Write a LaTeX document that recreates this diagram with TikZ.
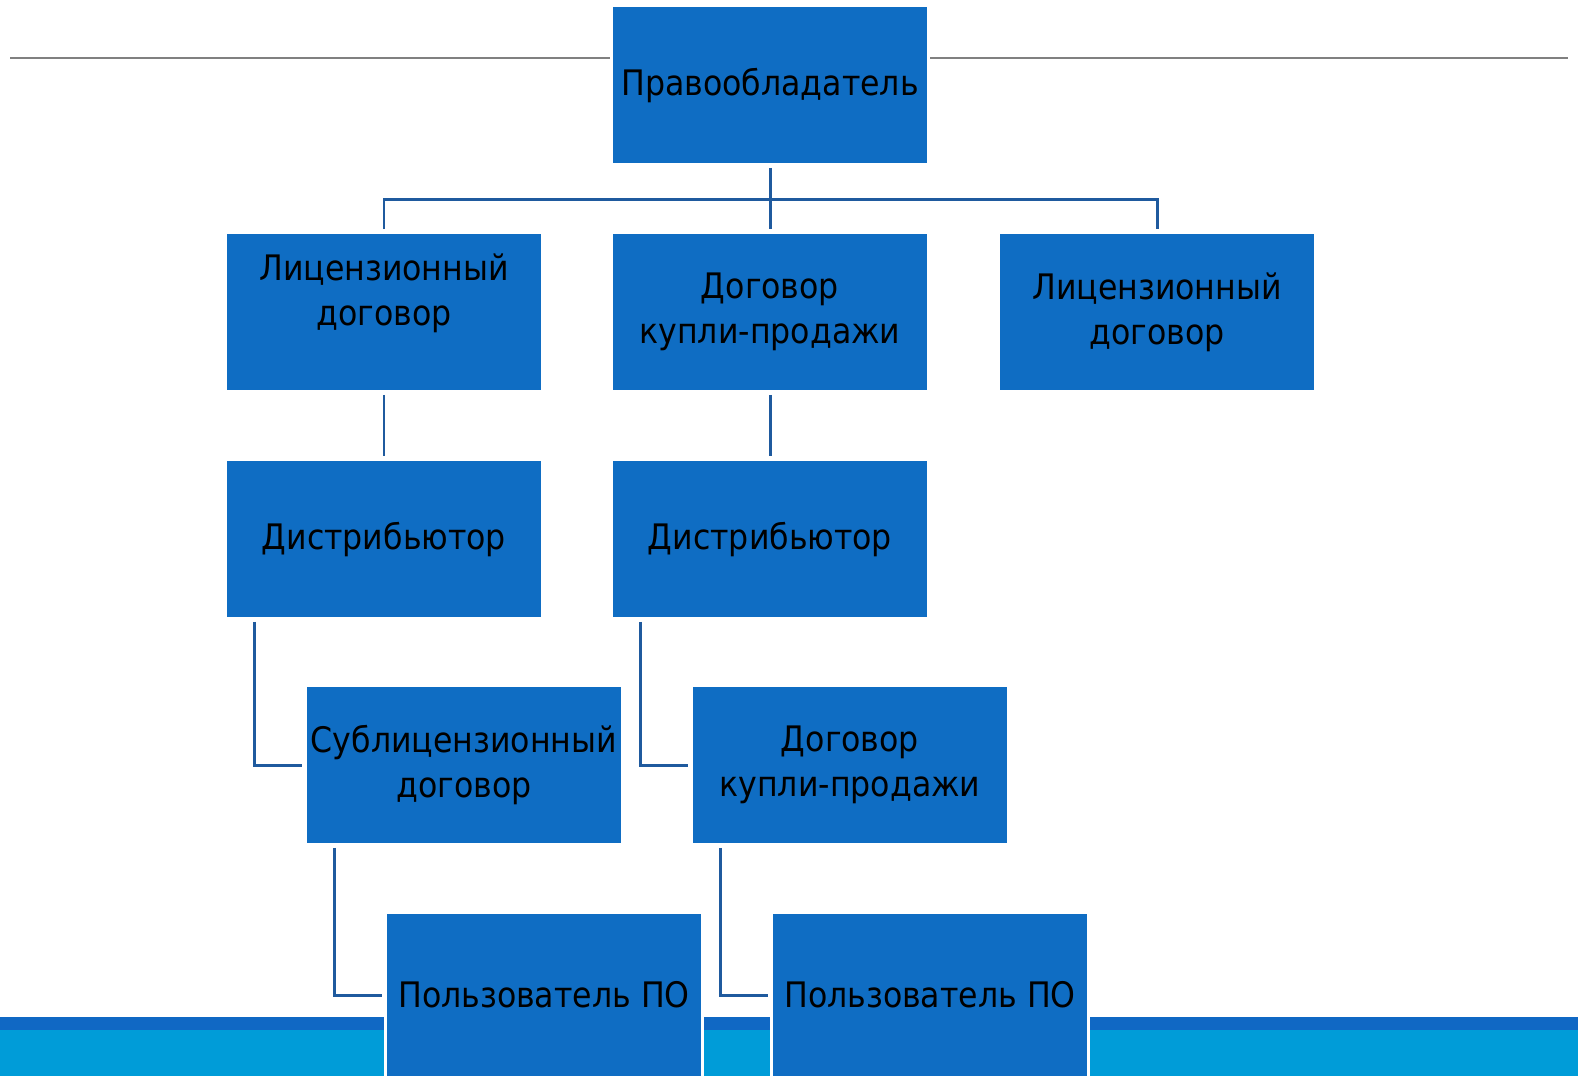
\documentclass[tikz,border=0pt]{standalone}
\usepackage{fontspec}
\newfontfamily\boxfont{DejaVu Sans Condensed}
\definecolor{boxblue}{HTML}{0F6DC3}
\definecolor{linkblue}{HTML}{1F5A9E}
\definecolor{bandblue}{HTML}{1068C4}
\definecolor{seablue}{HTML}{009CD8}
\begin{document}
\begin{tikzpicture}[x=0.02cm, y=-0.02cm,
		box/.style={rectangle, fill=boxblue, draw=white, line width=1.7pt,
			minimum width=6.36cm, minimum height=3.18cm, inner sep=0pt,
			align=center, text=black, font=\boxfont\fontsize{20}{25.6}\selectfont},
		link/.style={draw=linkblue, line width=1.7pt, shorten <=1.1pt, shorten >=1.1pt}]
				\useasboundingbox (0,0) rectangle (1578,1076);
				% rule and bands
				\draw[gray, line width=0.85pt] (10,58) -- (1568,58);
				\fill[seablue] (0,1030) rectangle (1578,1076);
				\fill[bandblue] (0,1017) rectangle (1578,1030);
				% boxes
				\node[box] (owner) at (770,85) {Правообладатель};
				\node[box] (lic1) at (384,312) {Лицензионный\\договор\\\mbox{}};
				\node[box] (sale1) at (770,312) {Договор\\купли-продажи};
				\node[box] (lic2) at (1157,312) {Лицензионный\\договор};
				\node[box] (dist1) at (384,539) {Дистрибьютор};
				\node[box] (dist2) at (770,539) {Дистрибьютор};
				\node[box] (sub) at (464,765) {Сублицензионный\\договор};
				\node[box] (sale2) at (850,765) {Договор\\купли-продажи};
				\node[box, minimum height=3.3cm] (user1) at (544,995) {Пользователь ПО};
				\node[box, minimum height=3.3cm] (user2) at (930,995) {Пользователь ПО};
				% connectors
				\coordinate (bus) at (770,199);
				\draw[link] (owner) -- (sale1);
				\draw[link] (lic1.north) |- (bus) -| (lic2.north);
				\draw[link] (lic1) -- (dist1);
				\draw[link] (sale1) -- (dist2);
				\foreach \a/\b in {dist1/sub, dist2/sale2, sub/user1, sale2/user2}
					{
						\draw[link] ([xshift=0.62cm]\a.south west) |- (\b.west);
					}
			\end{tikzpicture}
\end{document}
